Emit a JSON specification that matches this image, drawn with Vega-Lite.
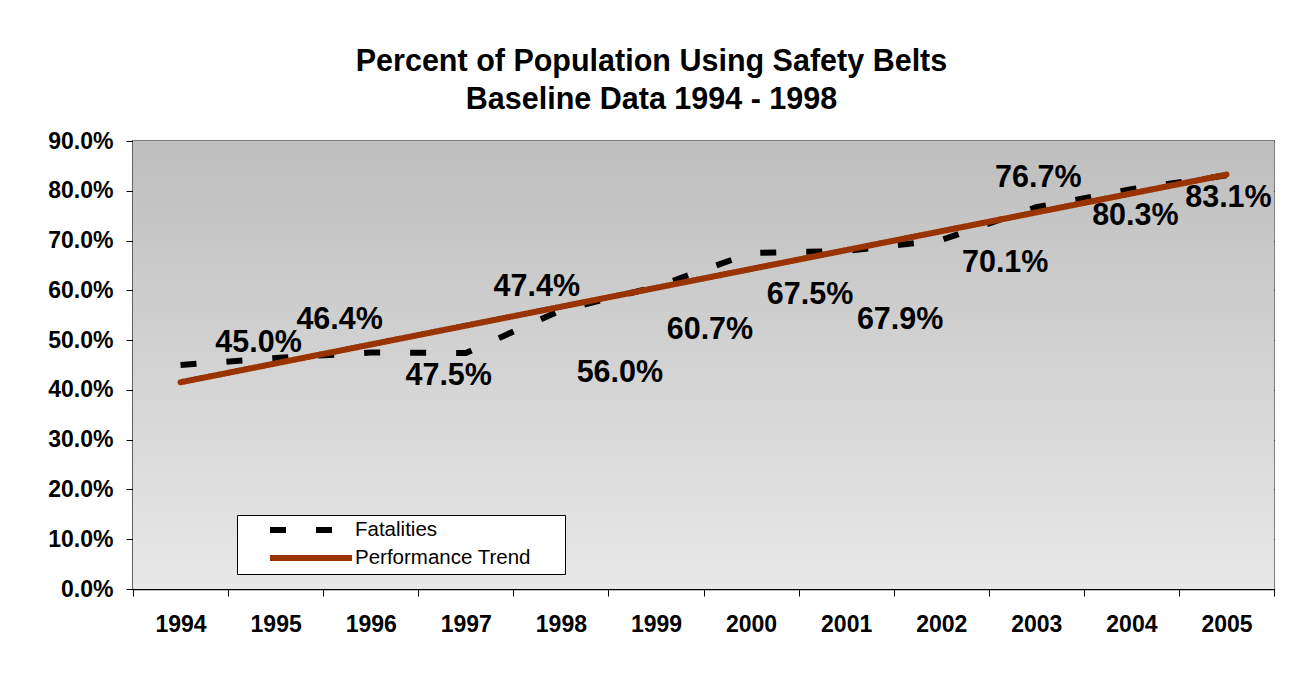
{
  "$schema": "https://vega.github.io/schema/vega-lite/v6.json",
  "width": 1141,
  "height": 448,
  "autosize": {"type": "none"},
  "padding": {"left": 133, "top": 141, "right": 17, "bottom": 86},
  "background": "white",
  "title": {
    "text": ["Percent of Population Using Safety Belts", "Baseline Data 1994 - 1998"],
    "fontSize": 30.5,
    "fontWeight": "bold",
    "font": "Liberation Sans",
    "color": "black",
    "anchor": "middle",
    "dx": -52,
    "offset": 15,
    "lineHeight": 38
  },
  "datasets": {
    "d": [
      {"year": 1994, "value": 0.450},
      {"year": 1995, "value": 0.464},
      {"year": 1996, "value": 0.475},
      {"year": 1997, "value": 0.474},
      {"year": 1998, "value": 0.560},
      {"year": 1999, "value": 0.607},
      {"year": 2000, "value": 0.675},
      {"year": 2001, "value": 0.679},
      {"year": 2002, "value": 0.701},
      {"year": 2003, "value": 0.767},
      {"year": 2004, "value": 0.803},
      {"year": 2005, "value": 0.831}
    ]
  },
  "data": {"name": "d"},
  "layer": [
    {
      "data": {"values": [{}]},
      "mark": {
        "type": "rect",
        "color": {
          "gradient": "linear", "x1": 0, "y1": 0, "x2": 0, "y2": 1,
          "stops": [{"offset": 0, "color": "#bebebe"}, {"offset": 1, "color": "#e8e8e8"}]
        }
      },
      "encoding": {
        "y": {"datum": 0, "type": "quantitative"},
        "y2": {"datum": 0.9}
      }
    },
    {
      "mark": {"type": "line", "strokeWidth": 6, "strokeCap": "butt"},
      "encoding": {
        "x": {
          "field": "year", "type": "ordinal",
          "scale": {"type": "band", "paddingInner": 0, "paddingOuter": 0},
          "axis": {
            "title": null, "labelAngle": 0, "tickBand": "extent",
            "labelFontSize": 23, "labelFontWeight": "bold", "labelColor": "black",
            "labelPadding": 17, "tickSize": 7, "tickColor": "black",
            "domainColor": "black", "domainWidth": 1.5, "grid": false
          }
        },
        "y": {
          "field": "value", "type": "quantitative",
          "scale": {"domain": [0, 0.9], "nice": false},
          "axis": {
            "title": null, "values": [0, 0.1, 0.2, 0.3, 0.4, 0.5, 0.6, 0.7, 0.8, 0.9],
            "format": ".1%", "labelFontSize": 23, "labelFontWeight": "bold", "labelColor": "black",
            "labelPadding": 13, "tickSize": 7, "tickColor": "black",
            "domainColor": "black", "domainWidth": 1.5,
            "grid": true, "gridColor": "black", "gridWidth": 1, "gridOpacity": 1
          }
        },
        "color": {
          "datum": "Fatalities",
          "scale": {"domain": ["Fatalities", "Performance Trend"], "range": ["black", "#993300"]},
          "legend": {"title": null, "labelExpr": "datum.label + '\u2800\u2800'"}
        },
        "strokeDash": {
          "datum": "Fatalities",
          "scale": {"domain": ["Fatalities", "Performance Trend"], "range": [[16, 30], [1, 0]]},
          "legend": {"title": null, "labelExpr": "datum.label + '\u2800\u2800'"}
        }
      }
    },
    {
      "transform": [{"regression": "value", "on": "year"}],
      "mark": {"type": "line", "strokeWidth": 6, "strokeCap": "round"},
      "encoding": {
        "x": {"field": "year", "type": "ordinal"},
        "y": {"field": "value", "type": "quantitative"},
        "color": {"datum": "Performance Trend"},
        "strokeDash": {"datum": "Performance Trend"}
      }
    },
    {"transform": [{"filter": "datum.year == 1994"}], "mark": {"type": "text", "dx": 78, "dy": -22}, "encoding": {"x": {"field": "year", "type": "ordinal"}, "y": {"field": "value", "type": "quantitative"}, "text": {"field": "value", "format": ".1%"}}},
    {"transform": [{"filter": "datum.year == 1995"}], "mark": {"type": "text", "dx": 64, "dy": -38}, "encoding": {"x": {"field": "year", "type": "ordinal"}, "y": {"field": "value", "type": "quantitative"}, "text": {"field": "value", "format": ".1%"}}},
    {"transform": [{"filter": "datum.year == 1996"}], "mark": {"type": "text", "dx": 78, "dy": 23}, "encoding": {"x": {"field": "year", "type": "ordinal"}, "y": {"field": "value", "type": "quantitative"}, "text": {"field": "value", "format": ".1%"}}},
    {"transform": [{"filter": "datum.year == 1997"}], "mark": {"type": "text", "dx": 71, "dy": -66}, "encoding": {"x": {"field": "year", "type": "ordinal"}, "y": {"field": "value", "type": "quantitative"}, "text": {"field": "value", "format": ".1%"}}},
    {"transform": [{"filter": "datum.year == 1998"}], "mark": {"type": "text", "dx": 59, "dy": 63}, "encoding": {"x": {"field": "year", "type": "ordinal"}, "y": {"field": "value", "type": "quantitative"}, "text": {"field": "value", "format": ".1%"}}},
    {"transform": [{"filter": "datum.year == 1999"}], "mark": {"type": "text", "dx": 54, "dy": 43}, "encoding": {"x": {"field": "year", "type": "ordinal"}, "y": {"field": "value", "type": "quantitative"}, "text": {"field": "value", "format": ".1%"}}},
    {"transform": [{"filter": "datum.year == 2000"}], "mark": {"type": "text", "dx": 59, "dy": 42}, "encoding": {"x": {"field": "year", "type": "ordinal"}, "y": {"field": "value", "type": "quantitative"}, "text": {"field": "value", "format": ".1%"}}},
    {"transform": [{"filter": "datum.year == 2001"}], "mark": {"type": "text", "dx": 54, "dy": 69}, "encoding": {"x": {"field": "year", "type": "ordinal"}, "y": {"field": "value", "type": "quantitative"}, "text": {"field": "value", "format": ".1%"}}},
    {"transform": [{"filter": "datum.year == 2002"}], "mark": {"type": "text", "dx": 64, "dy": 23}, "encoding": {"x": {"field": "year", "type": "ordinal"}, "y": {"field": "value", "type": "quantitative"}, "text": {"field": "value", "format": ".1%"}}},
    {"transform": [{"filter": "datum.year == 2003"}], "mark": {"type": "text", "dx": 2, "dy": -29}, "encoding": {"x": {"field": "year", "type": "ordinal"}, "y": {"field": "value", "type": "quantitative"}, "text": {"field": "value", "format": ".1%"}}},
    {"transform": [{"filter": "datum.year == 2004"}], "mark": {"type": "text", "dx": 4, "dy": 27}, "encoding": {"x": {"field": "year", "type": "ordinal"}, "y": {"field": "value", "type": "quantitative"}, "text": {"field": "value", "format": ".1%"}}},
    {"transform": [{"filter": "datum.year == 2005"}], "mark": {"type": "text", "dx": 2, "dy": 23}, "encoding": {"x": {"field": "year", "type": "ordinal"}, "y": {"field": "value", "type": "quantitative"}, "text": {"field": "value", "format": ".1%"}}}
  ],
  "config": {
    "font": "Liberation Sans",
    "view": {"stroke": "#808080", "strokeWidth": 2},
    "text": {"fontSize": 30.5, "fontWeight": "bold", "color": "black", "align": "center", "baseline": "middle"},
    "legend": {
      "orient": "none", "legendX": 104, "legendY": 374,
      "fillColor": "white", "strokeColor": "black", "padding": 4, "rowPadding": 4,
      "symbolType": "M-5.125,0H5.125", "symbolSize": 256, "symbolStrokeWidth": 6,
      "symbolOffset": 59, "labelOffset": 33,
      "labelFontSize": 20.5, "labelColor": "black", "labelFont": "Liberation Sans",
      "labelLimit": 400
    }
  }
}
